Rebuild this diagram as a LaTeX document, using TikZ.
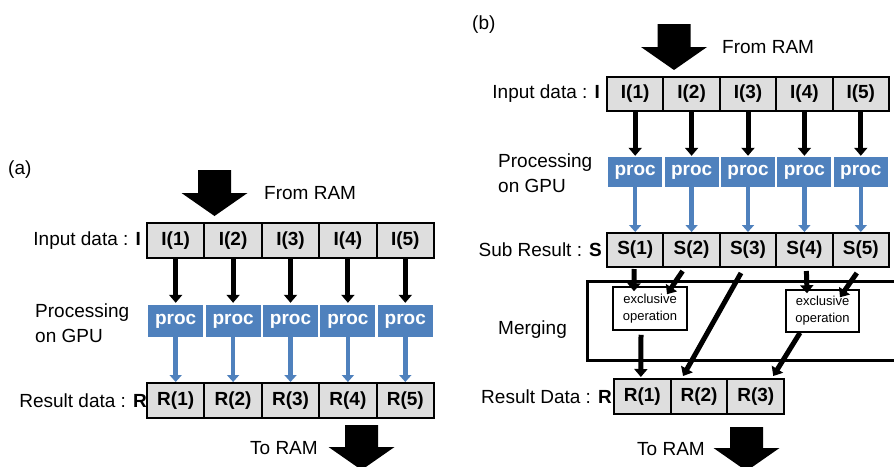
\documentclass[tikz,border=0pt]{standalone}
\usepackage{fontspec}
\setmainfont{Liberation Sans}
\usetikzlibrary{arrows.meta,calc}
\definecolor{procblue}{RGB}{79,129,189}
\definecolor{cellgray}{RGB}{222,222,222}
\tikzset{
 cell/.style={draw=black,line width=2pt,fill=cellgray,minimum height=35pt,inner sep=0pt,font=\fontsize{19}{22}\selectfont\bfseries},
 procbox/.style={fill=procblue,text=white,minimum height=32pt,inner sep=0pt,font=\fontsize{19}{22}\selectfont\bfseries},
 lbl/.style={inner sep=0pt,font=\fontsize{19}{25}\selectfont},
 blk/.style={line width=5pt,-{Triangle[width=13pt,length=8pt]}},
 blu/.style={line width=4.5pt,draw=procblue,-{Triangle[width=12pt,length=7pt]}},
 exop/.style={draw=black,line width=1.5pt,fill=white,inner sep=0pt,align=center,font=\fontsize{13}{17}\selectfont},
 mframe/.style={draw=black,line width=3pt},
}
\newcommand\bigarrowdown[4]{% cx, top, head y, tip
  \fill[black] (#1-16.5,#2) -- (#1+16.5,#2) -- (#1+16.5,#3) -- (#1+33,#3) -- (#1,#4) -- (#1-33,#3) -- (#1-16.5,#3) -- cycle;}
\begin{document}
\begin{tikzpicture}[x=1pt,y=-1pt]
\clip (0,0) rectangle (894,466);
\fill[white] (0,0) rectangle (894,466);

% ---------------- panel (a)
\node[lbl,anchor=west] (alab) at (8,170) {(a)};
\bigarrowdown{214.5}{170}{193}{216}
\node[lbl,anchor=west] (afrom) at (264,193) {From RAM};
\node[lbl,anchor=east] (ainl) at (141,240.5) {Input data : \textbf{I}};
\node[lbl,anchor=west,align=left] (aproc) at (35,323) {Processing\\on GPU};
\node[lbl,anchor=east] (aresl) at (147,400.5) {Result data : \textbf{R}};
\foreach \k in {1,...,5}{
  \pgfmathsetmacro\cx{147+57.4*(\k-0.5)}
  \node[cell,minimum width=57.4pt] (aI\k) at (\cx,240.5) {I(\k)};
  \node[procbox,minimum width=55pt] (aP\k) at (\cx,321) {proc};
  \node[cell,minimum width=57.4pt] (aR\k) at (\cx,400.5) {R(\k)};
  \draw[blk] (aI\k.south) -- ($(aP\k.north)+(0,-2)$);
  \draw[blu] (aP\k.south) -- (aR\k.north);
}
\bigarrowdown{361.5}{425}{447}{470}
\node[lbl,anchor=west] (ato) at (250,448) {To RAM};

% ---------------- panel (b)
\node[lbl,anchor=west] (blab) at (472,25) {(b)};
\bigarrowdown{674}{24}{47}{70}
\node[lbl,anchor=west] (bfrom) at (722,47) {From RAM};
\node[lbl,anchor=east] (binl) at (600,94) {Input data : \textbf{I}};
\node[lbl,anchor=west,align=left] (bproc) at (498,173) {Processing\\on GPU};
\node[lbl,anchor=east] (bsubl) at (602,250) {Sub Result : \textbf{S}};
\node[lbl,anchor=west] (bmerge) at (498,330) {Merging};
\node[lbl,anchor=east] (bresl) at (612,396.5) {Result Data : \textbf{R}};
\foreach \k in {1,...,5}{
  \pgfmathsetmacro\cx{607+56.4*(\k-0.5)}
  \node[cell,minimum width=56.4pt,minimum height=34pt] (bI\k) at (\cx,94) {I(\k)};
  \node[procbox,minimum width=54pt,minimum height=30pt] (bP\k) at (\cx,172) {proc};
  \node[cell,minimum width=56.4pt,minimum height=34pt] (bS\k) at (\cx,250) {S(\k)};
  \draw[blk] (bI\k.south) -- ($(bP\k.north)+(0,-1)$);
  \draw[blu] (bP\k.south) -- (bS\k.north);
}
\foreach \k in {1,2,3}{
  \pgfmathsetmacro\cx{614+56.7*(\k-0.5)}
  \node[cell,minimum width=56.7pt] (bR\k) at (\cx,396.5) {R(\k)};
}
\draw[mframe] (587,281) rectangle (910,360);
\node[exop,minimum width=74pt,minimum height=43pt] (ex1) at (650,308.5) {exclusive\\operation};
\node[exop,minimum width=73pt,minimum height=42pt] (ex2) at (822.5,311) {exclusive\\operation};

\draw[blk] ($(bS1.south)+(-1,1)$) -- ($(ex1.north)+(-16,5)$);
\draw[blk] ($(bS2.south)+(-9,3)$) -- ($(ex1.north)+(17,8)$);
\draw[blk] ($(bS3.south)+(-7,5)$) -- ($(bR2.north)+(-16,-2)$);
\draw[blk] ($(bS4.south)+(2,3)$) -- ($(ex2.north)+(-15.5,4)$);
\draw[blk] ($(bS5.south)+(-4,5)$) -- ($(ex2.north)+(17.5,8)$);
\draw[blk] ($(ex1.south)+(-9,4)$) -- ($(bR1.north)+(-1.5,-1)$);
\draw[blk] ($(ex2.south)+(-22.5,0)$) -- ($(bR3.north)+(17.5,-2)$);

\bigarrowdown{746.5}{427}{448}{471}
\node[lbl,anchor=west] (bto) at (637,449) {To RAM};
\end{tikzpicture}
\end{document}
